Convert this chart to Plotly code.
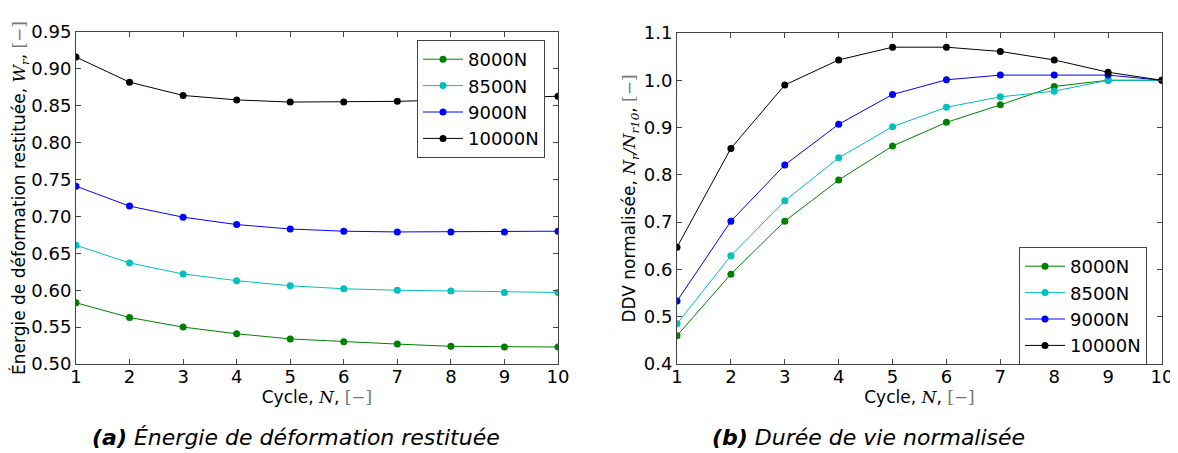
import plotly.graph_objects as go

cycles = [1, 2, 3, 4, 5, 6, 7, 8, 9, 10]
series_names = ["8000N", "8500N", "9000N", "10000N"]
series_colors = ["#008000", "#00BFBF", "#0000FF", "#000000"]

# (a) Énergie de déformation restituée
energy_8000 = [0.583, 0.563, 0.550, 0.541, 0.534, 0.530, 0.527, 0.524, 0.523, 0.523]
energy_8500 = [0.661, 0.637, 0.622, 0.613, 0.606, 0.602, 0.600, 0.599, 0.597, 0.597]
energy_9000 = [0.741, 0.714, 0.699, 0.689, 0.683, 0.680, 0.679, 0.679, 0.679, 0.680]
energy_10000 = [0.916, 0.882, 0.864, 0.858, 0.855, 0.855, 0.856, 0.858, 0.860, 0.863]

# (b) Durée de vie normalisée
life_8000 = [0.460, 0.590, 0.702, 0.789, 0.861, 0.911, 0.948, 0.987, 1.000, 1.000]
life_8500 = [0.485, 0.629, 0.745, 0.836, 0.902, 0.943, 0.965, 0.977, 1.000, 1.000]
life_9000 = [0.533, 0.702, 0.821, 0.907, 0.970, 1.001, 1.011, 1.011, 1.011, 1.000]
life_10000 = [0.647, 0.856, 0.990, 1.043, 1.070, 1.070, 1.061, 1.043, 1.017, 1.000]

x_ticks = [1, 2, 3, 4, 5, 6, 7, 8, 9, 10]
y_ticks_a = [0.50, 0.55, 0.60, 0.65, 0.70, 0.75, 0.80, 0.85, 0.90, 0.95]
y_ticks_b = [0.4, 0.5, 0.6, 0.7, 0.8, 0.9, 1.0, 1.1]

energy = [energy_8000, energy_8500, energy_9000, energy_10000]
life = [life_8000, life_8500, life_9000, life_10000]

# the page body has an 8px margin: the figure starts at (8, 8) of the window
OFF = 8
W, H = 1178 - OFF, 453 - OFF
def px(x):
    return (x - OFF) / W
def py(y):
    return 1 - (y - OFF) / H

FONT = "DejaVu Sans"
MATH = "font-family:'DejaVu Serif';font-style:italic"
GREY = "color:#777777;font-family:'DejaVu Serif'"

fig = go.Figure()
for name, col, ys in zip(series_names, series_colors, energy):
    fig.add_trace(go.Scatter(x=cycles, y=ys, name=name, mode="lines+markers",
                             line=dict(color=col, width=1),
                             marker=dict(color=col, size=7),
                             xaxis="x", yaxis="y", legend="legend"))
for name, col, ys in zip(series_names, series_colors, life):
    fig.add_trace(go.Scatter(x=cycles, y=ys, name=name, mode="lines+markers",
                             line=dict(color=col, width=1),
                             marker=dict(color=col, size=7),
                             xaxis="x2", yaxis="y2", legend="legend2"))

axis_common = dict(showline=True, linecolor="#444444", linewidth=1, mirror="ticks",
                   ticks="inside", ticklen=5, tickcolor="#444444",
                   showgrid=False, zeroline=False, automargin=False,
                   tickfont=dict(family=FONT, size=18, color="black"))

xlab = f"Cycle, <span style=\"{MATH}\">N</span>, <span style=\"{GREY}\">[−]</span>"

fig.update_layout(
    width=W, height=H,
    margin=dict(l=0, r=0, t=0, b=0, autoexpand=False),
    paper_bgcolor="white", plot_bgcolor="white",
    font=dict(family=FONT, color="black"),
    xaxis=dict(domain=[px(76), px(558)], range=[1, 10], tickvals=x_ticks,
               anchor="y", ticklabelstandoff=-4,
               title=dict(text=xlab, font=dict(size=17), standoff=0),
               **axis_common),
    yaxis=dict(domain=[py(364), py(32)], range=[0.5, 0.95], tickvals=y_ticks_a,
               tickformat=".2f", anchor="x",
               title=dict(text=f"Énergie de déformation restituée, <span style=\"{MATH}\">W<sub>r</sub></span>, <span style=\"{GREY}\">[−]</span>",
                          font=dict(size=17), standoff=0),
               **axis_common),
    xaxis2=dict(domain=[px(677), px(1162)], range=[1, 10], tickvals=x_ticks,
                anchor="y2", ticklabelstandoff=-4,
                title=dict(text=xlab, font=dict(size=17), standoff=0),
                **axis_common),
    yaxis2=dict(domain=[py(364), py(33)], range=[0.4, 1.1], tickvals=y_ticks_b,
                tickformat=".1f", anchor="x2",
                title=dict(text=f"DDV normalisée, <span style=\"{MATH}\">N<sub>r</sub>/N<sub>r10</sub></span>, <span style=\"{GREY}\">[−]</span>",
                           font=dict(size=17), standoff=3),
                **axis_common),
    legend=dict(x=px(417), y=py(40), xanchor="left", yanchor="top",
                bordercolor="#444444", borderwidth=1, bgcolor="white",
                font=dict(family=FONT, size=18), itemwidth=40,
                tracegroupgap=0),
    legend2=dict(x=px(1019), y=py(247), xanchor="left", yanchor="top",
                 bordercolor="#444444", borderwidth=1, bgcolor="white",
                 font=dict(family=FONT, size=18), itemwidth=40,
                 tracegroupgap=0),
    showlegend=True,
)

fig.add_annotation(x=px(296), y=py(437), xref="paper", yref="paper",
                   xanchor="center", yanchor="middle",
                   text="<b><i>(a)</i></b> <i>Énergie de déformation restituée</i>",
                   showarrow=False, font=dict(family=FONT, size=22, color="black"))
fig.add_annotation(x=px(868), y=py(437), xref="paper", yref="paper",
                   xanchor="center", yanchor="middle",
                   text="<b><i>(b)</i></b> <i>Durée de vie normalisée</i>",
                   showarrow=False, font=dict(family=FONT, size=22, color="black"))

fig.write_html("out.html")
